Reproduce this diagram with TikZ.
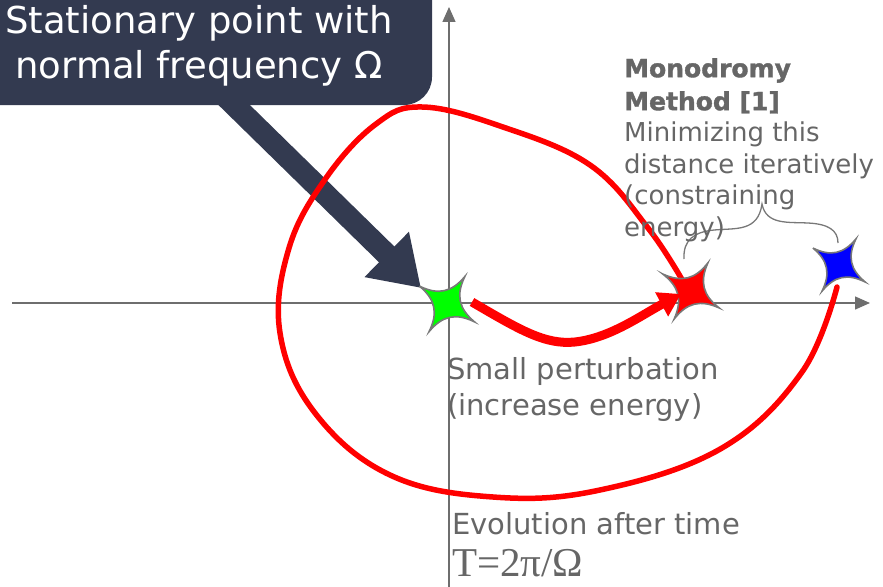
\documentclass[tikz,border=0pt]{standalone}
\usepackage{fontspec}
\setmainfont{DejaVu Sans}[BoldFont={DejaVu Sans Bold}, BoldFeatures={FakeBold=1.5}]
\newfontfamily\serfont{Liberation Serif}
\usetikzlibrary{arrows.meta}
\definecolor{navy}{RGB}{51,58,80}
\definecolor{txtgray}{RGB}{102,102,102}
\definecolor{axgray}{RGB}{110,110,110}
\definecolor{stargray}{RGB}{120,120,120}
\begin{document}
\begin{tikzpicture}[x=1pt,y=-1pt,
  axis/.style={draw=axgray, line width=1.4pt, -{Triangle[length=15pt,width=13pt]}},
  txt/.style={text=txtgray, inner sep=0pt, align=left, anchor=north west},
  star4/.pic={\draw[line width=1.6pt, draw=stargray, pic actions]
     (-20,-20) .. controls (-6,-9) and (6,-9) .. (20,-20)
     .. controls (9,-6) and (9,6) .. (20,20)
     .. controls (6,9) and (-6,9) .. (-20,20)
     .. controls (-9,6) and (-9,-6) .. cycle;}]
\useasboundingbox (0,0) rectangle (883,586);
\clip (0,0) rectangle (883,586);

% star centres
\coordinate (g) at (447,304);
\coordinate (r) at (691,291);
\coordinate (b) at (839,265);

% axes
\coordinate (xl) at (12,303);
\coordinate (xr) at (870,303);
\coordinate (yb) at (449,590);
\coordinate (yt) at (449,7);
\draw[axis] (xl) -- (xr);
\draw[axis] (yb) -- (yt);

% callout box
\fill[navy, rounded corners=28pt] (-40,-40) rectangle (432,105);
\node[text=white, inner sep=0pt, align=center, anchor=north,
  font=\fontsize{37}{45}\selectfont] (callout) at (199,5)
  {Stationary point with\\normal frequency Ω};
\coordinate (cstart) at (226,97);
\coordinate (ctip) at (421,288);
\draw[navy, line width=22pt, -{Triangle[length=48pt,width=60pt]}] (cstart) -- (ctip);

% red loop from blue star around to red star
\coordinate (loopS) at (837,287);
\coordinate (loopE) at (684,283);
\draw[red, line width=5.5pt, line cap=round] plot[smooth, tension=0.65] coordinates {
 (loopS) (802,372) (722,448) (600,490) (493,497) (390,475) (315,413)
 (280,333) (289,248) (326,178) (376,124) (422,107) (500,126) (590,165)
 (648,228) (loopE)};

% brace
\coordinate (braceL) at (684,259);
\coordinate (braceT) at (762,204);
\coordinate (braceR) at (838,243);
\draw[stargray, line width=1.3pt] (braceL) .. controls (683,240) and (694,232) .. (714,230)
  .. controls (736,228) and (758,232) .. (braceT)
  .. controls (766,225) and (788,222) .. (808,223)
  .. controls (828,224) and (838,230) .. (braceR);

% stars
\pic[fill=green, rotate=12, scale=1.16] at (g) {star4};
\pic[fill=red, rotate=14, scale=1.16] at (r) {star4};
\pic[fill=blue, rotate=12, scale=1.1] at (b) {star4};

% perturbation arrow
\coordinate (pS) at (472,302);
\coordinate (pE) at (681,294);
\draw[red, line width=9pt, -{Triangle[length=22pt,width=26pt]}] (pS)
  .. controls (520,330) and (545,345) .. (575,342)
  .. controls (610,338) and (640,316) .. (pE);

% texts
\node[txt, font=\fontsize{25}{33}\selectfont\bfseries] (mono) at (624,58)
  {Monodromy\\Method [1]};
\node[txt, font=\fontsize{26}{31.5}\selectfont] (mini) at (624,122)
  {Minimizing this\\distance iteratively\\(constraining\\energy)};
\node[txt, font=\fontsize{29}{36}\selectfont] (small) at (447,357)
  {Small perturbation\\(increase energy)};
\node[txt, font=\fontsize{29}{36}\selectfont] (evo) at (452,512)
  {Evolution after time};
\node[txt, font=\fontsize{41}{48}\serfont] (T) at (452,549)
  {T=2π/Ω};
\end{tikzpicture}
\end{document}
